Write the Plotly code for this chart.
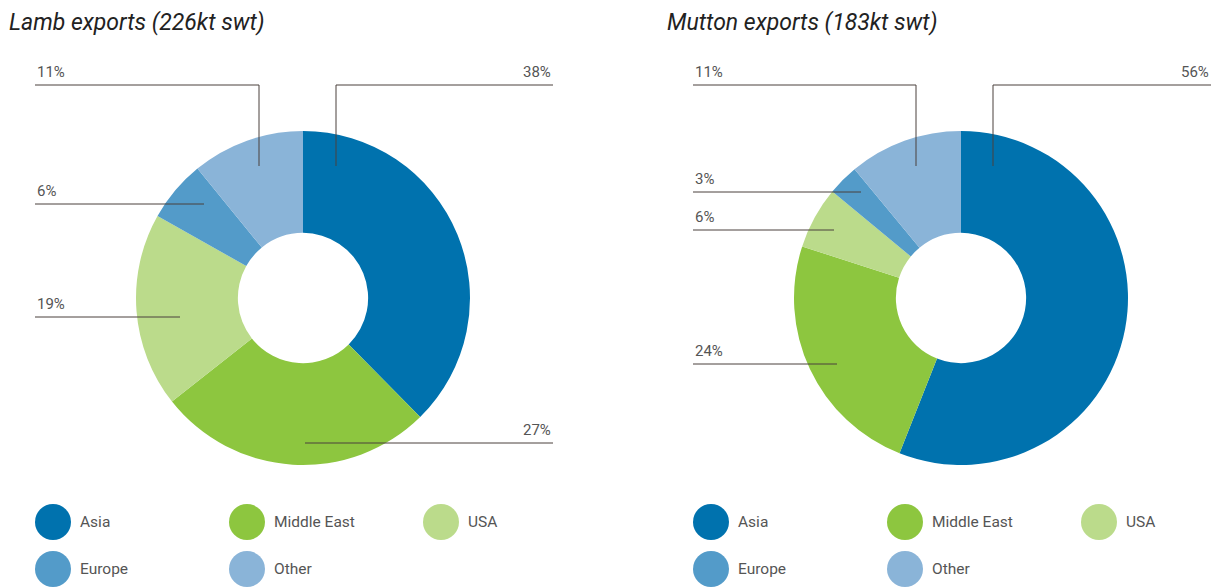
import plotly.graph_objects as go

# ---- data ----
categories = ["Asia", "Middle East", "USA", "Europe", "Other"]
lamb_share = [38, 27, 19, 6, 11]
mutton_share = [56, 24, 6, 3, 11]
titles = ["Lamb exports (226kt swt)", "Mutton exports (183kt swt)"]
colors = ["#0072ae", "#8dc63f", "#bbdb8b", "#539bc9", "#8ab4d8"]

# ---- layout constants (pixels, page coordinates) ----
OFF = 8  # page body margin
W, H = 1221 - OFF, 587 - OFF
R = 167
HOLE = 0.39
centers = [(303, 298), (961, 298)]
title_x = [8, 666]
label_font = dict(family="Roboto, sans-serif", size=15, color="#555555")
line_color = "#4a403c"

# callout layout per chart: (category index, line y, line x0, line x1, drop x, drop y, side)
callouts = [
    [(0, 85, 336, 553, 336, 166, "right"),
     (4, 85, 35, 259, 259, 166, "left"),
     (3, 204, 35, 204, None, None, "left"),
     (2, 317, 35, 180, None, None, "left"),
     (1, 443, 305, 553, None, None, "right")],
    [(0, 85, 993, 1211, 993, 166, "right"),
     (4, 85, 693, 916, 916, 166, "left"),
     (3, 192, 693, 861, None, None, "left"),
     (2, 230, 693, 834, None, None, "left"),
     (1, 364, 693, 837, None, None, "left")],
]


def px(x):
    return x - OFF


def py(y):
    return y - OFF


fig = go.Figure()
shapes = []
annotations = []

for k, vals in enumerate([lamb_share, mutton_share]):
    cx, cy = px(centers[k][0]), py(centers[k][1])
    fig.add_trace(go.Pie(
        labels=categories, values=vals, sort=False, direction="clockwise",
        rotation=0, hole=HOLE, textinfo="none", hoverinfo="label+percent",
        marker=dict(colors=colors, line=dict(width=0)), showlegend=False,
        domain=dict(x=[(cx - R) / W, (cx + R) / W],
                    y=[(H - cy - R) / H, (H - cy + R) / H]),
    ))
    # title
    annotations.append(dict(
        x=px(title_x[k]) / W, y=1, xref="paper", yref="paper",
        text=titles[k], showarrow=False, xanchor="left", yanchor="top",
        borderpad=0,
        font=dict(family="Roboto, sans-serif", size=23, color="#222222", style="italic")))
    # callouts
    for (ci, ly, x0, x1, dx, dy, side) in callouts[k]:
        shapes.append(dict(type="line", xref="x", yref="y", x0=px(x0), x1=px(x1),
                           y0=py(ly), y1=py(ly), line=dict(color=line_color, width=1)))
        if dx is not None:
            shapes.append(dict(type="line", xref="x", yref="y", x0=px(dx), x1=px(dx),
                               y0=py(ly), y1=py(dy), line=dict(color=line_color, width=1)))
        annotations.append(dict(
            x=px(x1 if side == "right" else x0), y=py(ly) - 2, xref="x", yref="y",
            text=f"{vals[ci]}%", showarrow=False,
            xanchor=("right" if side == "right" else "left"), yanchor="bottom",
            font=label_font))
    # legend
    col_x = [cx - 250, cx - 56, cx + 138]
    row_y = [py(522), py(569)]
    lx, ly_ = [], []
    for i, c in enumerate(categories):
        mx = col_x[i % 3]
        my = row_y[i // 3]
        lx.append(mx)
        ly_.append(my)
        annotations.append(dict(
            x=mx + 25, y=my, xref="x", yref="y", text=c, showarrow=False,
            xanchor="left", yanchor="middle",
            font=dict(family="Roboto, sans-serif", size=15.5, color="#555555")))
    fig.add_trace(go.Scatter(
        x=lx, y=ly_, mode="markers", hoverinfo="skip", showlegend=False,
        marker=dict(size=36, color=colors, line=dict(width=0)),
        xaxis="x", yaxis="y"))

fig.update_layout(
    width=W, height=H, margin=dict(l=0, r=0, t=0, b=0),
    paper_bgcolor="white", plot_bgcolor="rgba(0,0,0,0)",
    xaxis=dict(range=[0, W], visible=False, domain=[0, 1], fixedrange=True),
    yaxis=dict(range=[H, 0], visible=False, domain=[0, 1], fixedrange=True),
    shapes=shapes, annotations=annotations, showlegend=False,
)

fig.write_html("out.html")
